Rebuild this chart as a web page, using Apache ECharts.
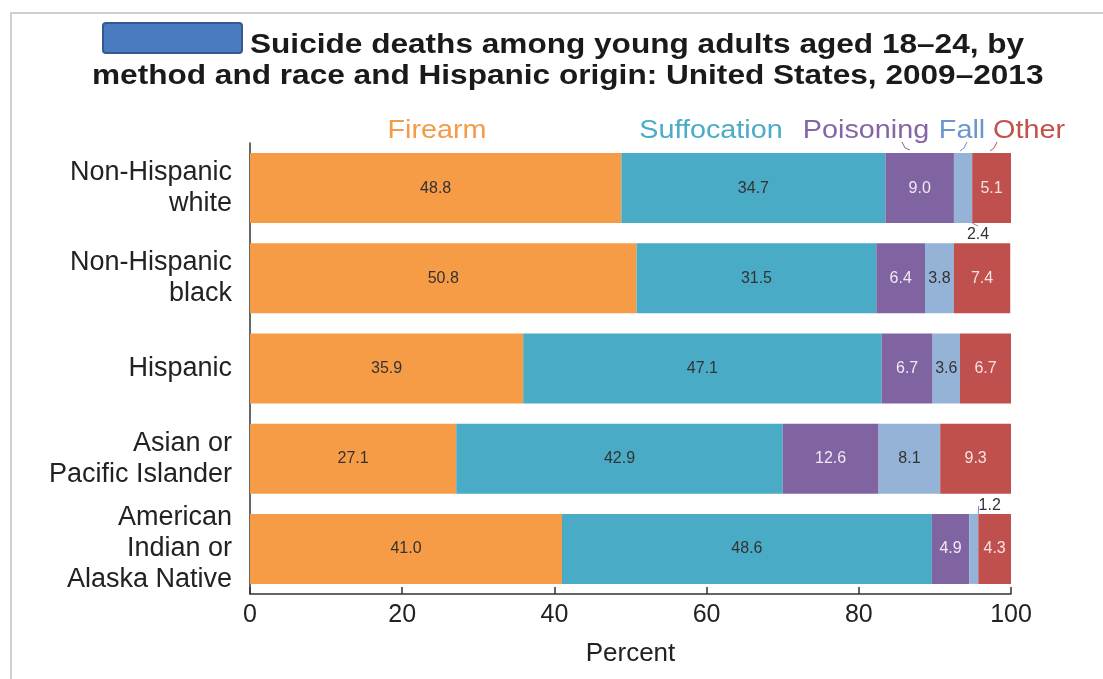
<!DOCTYPE html>
<html>
<head>
<meta charset="utf-8">
<script src="https://cdn.jsdelivr.net/npm/echarts@6/dist/echarts.min.js"></script>
<style>
  html, body { margin: 0; padding: 0; background: #fff; }
  #chart { width: 1103px; height: 679px; }
</style>
</head>
<body>
<div id="chart"></div>
<script>
// Race and Hispanic origin groups (top to bottom)
const groups = [
  'Non-Hispanic\nwhite',
  'Non-Hispanic\nblack',
  'Hispanic',
  'Asian or\nPacific Islander',
  'American\nIndian or\nAlaska Native'
];

// Percent of suicide deaths by method
const firearm     = [48.8, 50.8, 35.9, 27.1, 41.0];
const suffocation = [34.7, 31.5, 47.1, 42.9, 48.6];
const poisoning   = [9.0, 6.4, 6.7, 12.6, 4.9];
const fall        = [2.4, 3.8, 3.6, 8.1, 1.2];
const other       = [5.1, 7.4, 6.7, 9.3, 4.3];

const methods = ['Firearm', 'Suffocation', 'Poisoning', 'Fall', 'Other'];
const xTicks = [0, 20, 40, 60, 80, 100];

const titleLines = [
  'Suicide deaths among young adults aged 18–24, by',
  'method and race and Hispanic origin: United States, 2009–2013'
];

const colors = {
  Firearm: '#F79C46',
  Suffocation: '#49ABC6',
  Poisoning: '#8064A2',
  Fall: '#95B3D7',
  Other: '#C0504D'
};
const nameInk = {
  Firearm: '#F59A48',
  Suffocation: '#4AACC6',
  Poisoning: '#8466A6',
  Fall: '#6a95cd',
  Other: '#C4504C'
};
const labelInk = {
  Firearm: '#333',
  Suffocation: '#333',
  Poisoning: '#f1e8f2',
  Fall: '#333',
  Other: '#f6e2e1'
};
const values = { Firearm: firearm, Suffocation: suffocation, Poisoning: poisoning, Fall: fall, Other: other };

const FONT = '"Liberation Sans", Arial, sans-serif';
const WIDE = 1.15;       // horizontal stretch of the lettering
const TITLE_WIDE = 1.17;

const chart = echarts.init(document.getElementById('chart'));

const series = methods.map(function (m) {
  return {
    name: m,
    type: 'bar',
    stack: 'total',
    barWidth: 70,
    itemStyle: { color: colors[m] },
    label: {
      show: true,
      position: 'inside',
      formatter: function (p) { return p.value.toFixed(1); },
      color: labelInk[m],
      fontFamily: FONT,
      fontSize: 16
    },
    labelLine: {
      show: m === 'Fall',
      lineStyle: { color: '#6f8fbf', width: 1 }
    },
    labelLayout: m === 'Fall' ? function (p) {
      // narrow segments get their value placed outside the bar
      if (p.dataIndex === 0) {
        return { x: p.rect.x + p.rect.width / 2 + 15, y: p.rect.y + p.rect.height + 11, align: 'center', verticalAlign: 'middle' };
      }
      if (p.dataIndex === 4) {
        return { x: p.rect.x + p.rect.width / 2 + 16, y: p.rect.y - 8, align: 'center', verticalAlign: 'middle' };
      }
      return {};
    } : undefined,
    data: values[m].map(function (v, i) {
      if (m === 'Fall' && (i === 0 || i === 4)) {
        return { value: v, label: { color: '#333' } };
      }
      return v;
    })
  };
});

// method names set above the top bar
const legendText = [
  { name: 'Firearm', x: 437 },
  { name: 'Suffocation', x: 711 },
  { name: 'Poisoning', x: 866 },
  { name: 'Fall', x: 962 },
  { name: 'Other', x: 1029 }
];

const graphics = [
  // outer frame
  {
    type: 'polyline',
    shape: { points: [[11, 679], [11, 13], [1103, 13]] },
    style: { stroke: '#cfcfcf', lineWidth: 2, fill: null },
    silent: true
  },
  // title, two lines
  {
    type: 'text',
    x: 250, y: 32, scaleX: TITLE_WIDE,
    style: { text: titleLines[0], fill: '#1a1a1a', font: 'bold 27px ' + FONT, textAlign: 'left', textVerticalAlign: 'top' }
  },
  {
    type: 'text',
    x: 92, y: 63, scaleX: TITLE_WIDE,
    style: { text: titleLines[1], fill: '#1a1a1a', font: 'bold 27px ' + FONT, textAlign: 'left', textVerticalAlign: 'top' }
  },
  // blue box before the title
  {
    type: 'rect',
    shape: { x: 103, y: 23, width: 139, height: 30, r: 3 },
    style: { fill: '#4a7bc0', stroke: '#35598f', lineWidth: 2 },
    z: 10
  },
  // small guide hooks from names to narrow segments
  {
    type: 'polyline',
    shape: { points: [[902, 142], [905, 148], [910, 150]] },
    style: { stroke: '#8064A2', lineWidth: 1, fill: null }
  },
  {
    type: 'polyline',
    shape: { points: [[967, 142], [964, 148], [960, 151]] },
    style: { stroke: '#6f8fbf', lineWidth: 1, fill: null }
  },
  {
    type: 'polyline',
    shape: { points: [[997, 142], [994, 148], [990, 151]] },
    style: { stroke: '#C0504D', lineWidth: 1, fill: null }
  }
].concat(legendText.map(function (t) {
  return {
    type: 'text',
    x: t.x,
    y: 131,
    scaleX: WIDE,
    style: {
      text: t.name,
      fill: nameInk[t.name],
      font: '25px ' + FONT,
      textAlign: 'center',
      textVerticalAlign: 'middle'
    }
  };
}));

chart.setOption({
  animation: false,
  backgroundColor: '#fff',
  grid: { left: 250, right: 92, top: 143, bottom: 85, containLabel: false },
  xAxis: {
    type: 'value',
    min: xTicks[0],
    max: xTicks[xTicks.length - 1],
    interval: 20,
    name: 'Percent',
    nameLocation: 'middle',
    nameGap: 47,
    nameTextStyle: { fontFamily: FONT, fontSize: 26, color: '#222' },
    axisLine: { show: true, lineStyle: { color: '#333', width: 1.5 } },
    axisTick: { show: true, inside: true, length: 7, lineStyle: { color: '#333', width: 1.5 } },
    axisLabel: { fontFamily: FONT, fontSize: 25, color: '#222', margin: 9 },
    splitLine: { show: false }
  },
  yAxis: {
    type: 'category',
    inverse: true,
    data: groups,
    axisLine: { show: true, lineStyle: { color: '#333', width: 1.5 } },
    axisTick: { show: false },
    axisLabel: { fontFamily: FONT, fontSize: 27, color: '#222', margin: 18, lineHeight: 31, align: 'right' }
  },
  series: series,
  graphic: graphics
});
</script>
</body>
</html>
